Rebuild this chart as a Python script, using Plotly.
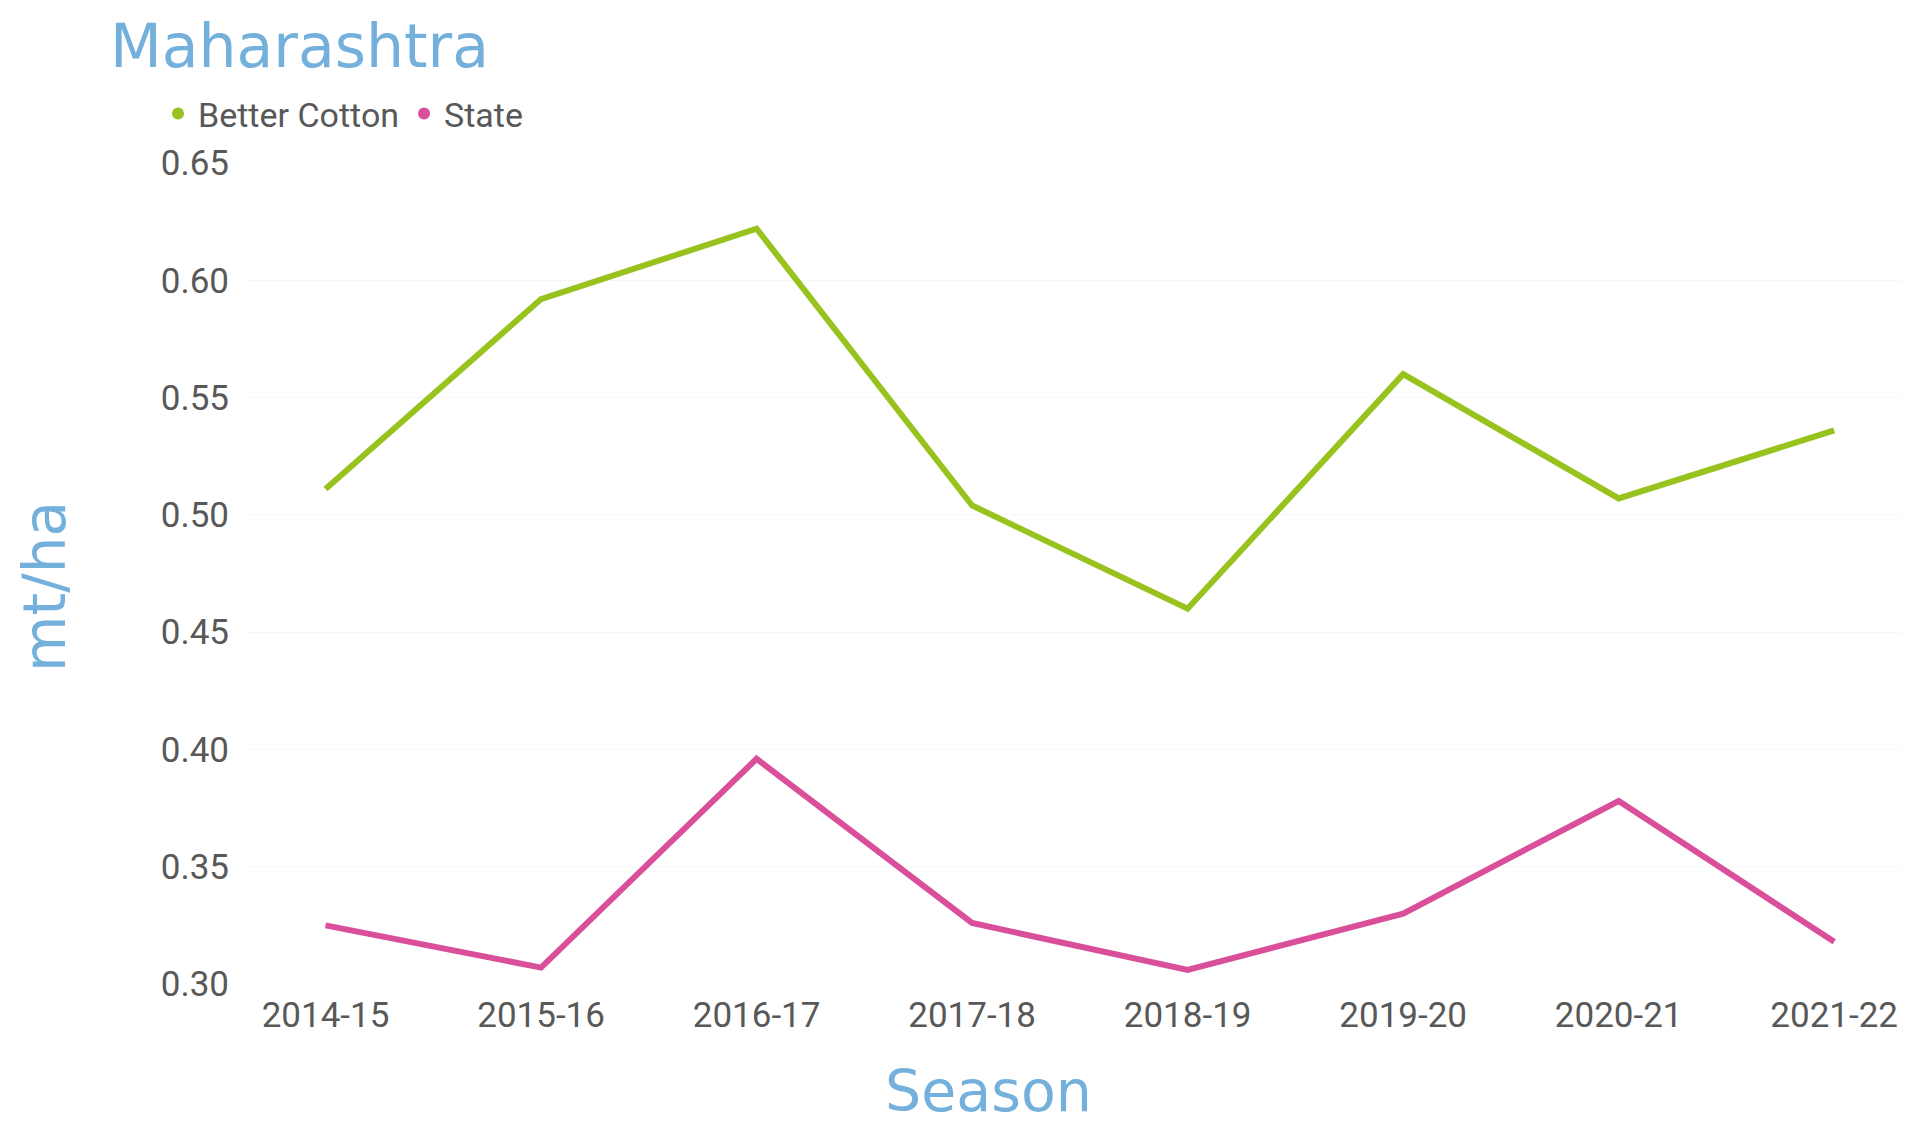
import plotly.graph_objects as go

seasons = ["2014-15", "2015-16", "2016-17", "2017-18", "2018-19", "2019-20", "2020-21", "2021-22"]
better_cotton = [0.511, 0.592, 0.622, 0.504, 0.460, 0.560, 0.507, 0.536]
state = [0.325, 0.307, 0.396, 0.326, 0.306, 0.330, 0.378, 0.318]
y_ticks = [0.30, 0.35, 0.40, 0.45, 0.50, 0.55, 0.60, 0.65]

GREEN = "#98C21D"
PINK = "#DA4F9A"
BLUE = "#74B0DC"
GREY = "#585858"
W, H = 1920, 1124
L, R, T, B = 238, 27, 155, 148
PW, PH = W - L - R, H - T - B

fig = go.Figure()
fig.add_trace(go.Scatter(x=seasons, y=better_cotton, mode="lines", name="Better Cotton",
                         line=dict(color=GREEN, width=6), showlegend=False))
fig.add_trace(go.Scatter(x=seasons, y=state, mode="lines", name="State",
                         line=dict(color=PINK, width=6), showlegend=False))
# legend entries (dot markers)
fig.add_trace(go.Scatter(x=[None], y=[None], mode="markers", name="Better Cotton",
                         marker=dict(color=GREEN, size=13)))
fig.add_trace(go.Scatter(x=[None], y=[None], mode="markers", name="State",
                         marker=dict(color=PINK, size=13)))

fig.update_layout(
    width=W, height=H,
    paper_bgcolor="white", plot_bgcolor="white",
    margin=dict(l=L, r=R, t=T, b=B, autoexpand=False),
    font=dict(family="Roboto", size=35, color=GREY),
    title=dict(text="Maharashtra", font=dict(family="DejaVu Sans", size=60, color=BLUE),
               xref="container", yref="container", x=102/W, xanchor="left",
               y=1 - 38/H, yanchor="middle", automargin=False),
    legend=dict(orientation="h", xref="container", yref="container",
                x=150/W, xanchor="left", y=1 - 106/H, yanchor="middle",
                font=dict(family="Roboto", size=34, color=GREY),
                itemsizing="constant", tracegroupgap=0, itemwidth=30,
                bgcolor="rgba(0,0,0,0)"),
    showlegend=True,
    annotations=[
        dict(text="Season", xref="paper", yref="paper", x=(980 - L) / PW, y=-(1083 - (H - B)) / PH,
             xanchor="center", yanchor="middle", showarrow=False,
             font=dict(family="DejaVu Sans", size=57, color=BLUE)),
        dict(text="mt/ha", xref="paper", yref="paper", x=-(L - 37) / PW, y=((H - B) - 579) / PH,
             xanchor="center", yanchor="middle", showarrow=False, textangle=-90,
             font=dict(family="DejaVu Sans", size=58, color=BLUE)),
    ],
)
fig.update_xaxes(type="category", range=[-0.369, 7.31], showgrid=False, zeroline=False,
                 showline=False, ticks="outside", ticklen=0, tickcolor="white", automargin=False,
                 tickfont=dict(family="Roboto", size=35, color=GREY))
fig.update_yaxes(range=[0.30, 0.65], tickvals=y_ticks, ticktext=[f"{v:.2f}" for v in y_ticks],
                 showgrid=True, gridcolor="#F7F7F7", zeroline=False, showline=False,
                 ticks="outside", ticklen=9, tickcolor="white", automargin=False,
                 tickfont=dict(family="Roboto", size=35, color=GREY))

fig.write_html("out.html")
